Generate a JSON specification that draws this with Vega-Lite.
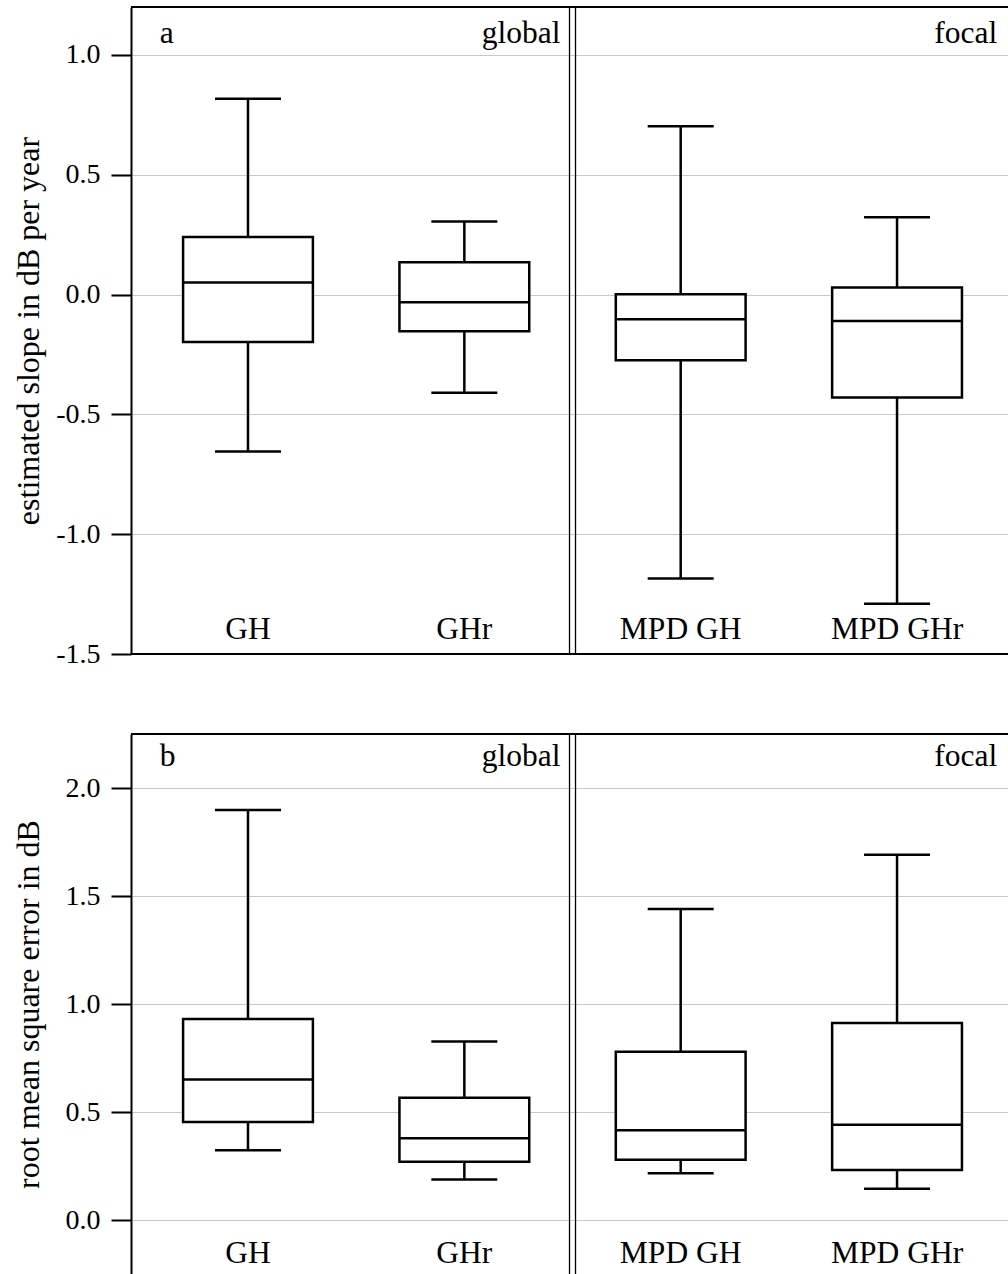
{
  "$schema": "https://vega.github.io/schema/vega-lite/v6.json",
  "padding": {"left": 12, "top": 6, "right": 0, "bottom": 0},
  "background": "white",
  "bounds": "flush",
  "spacing": 80,
  "config": {
    "font": "Liberation Serif",
    "view": {"stroke": null},
    "axisY": {
      "domain": true, "domainColor": "black", "domainWidth": 2,
      "ticks": true, "tickColor": "black", "tickWidth": 2, "tickSize": 20,
      "labelPadding": 11, "labelFontSize": 28, "labelColor": "black", "labelFont": "Liberation Serif",
      "titleFontSize": 32, "titleFontWeight": "normal", "titleColor": "black", "titleFont": "Liberation Serif",
      "grid": true, "gridColor": "#c8c8c8", "gridWidth": 1
    },
    "text": {"fontSize": 31.5, "color": "black", "font": "Liberation Serif"}
  },
  "vconcat": [
    {
      "width": 877,
      "height": 647,
      "data": {"values": [
        {"model": "GH", "lower": -0.655, "q1": -0.198, "median": 0.05, "q3": 0.24, "upper": 0.817},
        {"model": "GHr", "lower": -0.41, "q1": -0.153, "median": -0.032, "q3": 0.135, "upper": 0.305},
        {"model": "MPD GH", "lower": -1.185, "q1": -0.274, "median": -0.103, "q3": 0.001, "upper": 0.702},
        {"model": "MPD GHr", "lower": -1.29, "q1": -0.43, "median": -0.11, "q3": 0.029, "upper": 0.323}
      ]},
      "layer": [
        {
          "mark": {"type": "rule", "color": "black", "strokeWidth": 2.5},
          "encoding": {
            "x": {"field": "model", "type": "nominal", "axis": null,
                  "scale": {"type": "band", "domain": ["GH", "GHr", "MPD GH", "MPD GHr"], "paddingInner": 0, "paddingOuter": 0.0268, "align": 0.76}},
            "y": {"field": "lower", "type": "quantitative",
                  "scale": {"domain": [-1.5, 1.2], "nice": false, "zero": false},
                  "axis": {"values": [-1.5, -1, -0.5, 0, 0.5, 1], "labelExpr": "datum.value < 0 ? '-' + format(-datum.value, '.1f') : format(datum.value, '.1f')", "title": "estimated slope in dB per year", "titlePadding": 10}},
            "y2": {"field": "upper"}
          }
        },
        {
          "mark": {"type": "bar", "width": {"band": 0.6}, "fill": "white", "stroke": "black", "strokeWidth": 2.5},
          "encoding": {
            "x": {"field": "model", "type": "nominal"},
            "y": {"field": "q1", "type": "quantitative"},
            "y2": {"field": "q3"}
          }
        },
        {
          "mark": {"type": "tick", "color": "black", "size": 130, "thickness": 2.5, "opacity": 1},
          "encoding": {
            "x": {"field": "model", "type": "nominal"},
            "y": {"field": "median", "type": "quantitative"}
          }
        },
        {
          "mark": {"type": "tick", "color": "black", "size": 66, "thickness": 2.5, "opacity": 1},
          "encoding": {
            "x": {"field": "model", "type": "nominal"},
            "y": {"field": "upper", "type": "quantitative"}
          }
        },
        {
          "mark": {"type": "tick", "color": "black", "size": 66, "thickness": 2.5, "opacity": 1},
          "encoding": {
            "x": {"field": "model", "type": "nominal"},
            "y": {"field": "lower", "type": "quantitative"}
          }
        },
        {
          "mark": {"type": "text", "baseline": "alphabetic", "align": "center", "dy": -15},
          "encoding": {
            "x": {"field": "model", "type": "nominal"},
            "y": {"datum": -1.5},
            "text": {"field": "model"}
          }
        },
        {
          "data": {"values": [{"edge": "top"}]},
          "mark": {"type": "rule", "color": "black", "strokeWidth": 2},
          "encoding": {"y": {"datum": 1.2}}
        },
        {
          "data": {"values": [{"edge": "bottom"}]},
          "mark": {"type": "rule", "color": "black", "strokeWidth": 2},
          "encoding": {"y": {"datum": -1.5}}
        },
        {
          "data": {"values": [{"edge": "separator"}]},
          "mark": {"type": "rule", "color": "black", "strokeWidth": 1.3, "xOffset": -3},
          "encoding": {"x": {"datum": "GHr", "bandPosition": 1}}
        },
        {
          "data": {"values": [{"edge": "separator"}]},
          "mark": {"type": "rule", "color": "black", "strokeWidth": 1.3, "xOffset": 3},
          "encoding": {"x": {"datum": "GHr", "bandPosition": 1}}
        },
        {
          "data": {"values": [{"label": "a"}]},
          "mark": {"type": "text", "align": "left", "baseline": "alphabetic", "dx": 20, "dy": 36},
          "encoding": {"x": {"datum": "GH", "bandPosition": 0}, "y": {"datum": 1.2}, "text": {"field": "label"}}
        },
        {
          "data": {"values": [{"label": "global"}]},
          "mark": {"type": "text", "align": "right", "baseline": "alphabetic", "dx": -12, "dy": 36},
          "encoding": {"x": {"datum": "GHr", "bandPosition": 1}, "y": {"datum": 1.2}, "text": {"field": "label"}}
        },
        {
          "data": {"values": [{"label": "focal"}]},
          "mark": {"type": "text", "align": "right", "baseline": "alphabetic", "dx": -8, "dy": 36},
          "encoding": {"x": {"datum": "MPD GHr", "bandPosition": 1}, "y": {"datum": 1.2}, "text": {"field": "label"}}
        }
      ]
    },
    {
      "width": 877,
      "height": 540,
      "data": {"values": [
        {"model": "GH", "lower": 0.323, "q1": 0.454, "median": 0.65, "q3": 0.93, "upper": 1.898},
        {"model": "GHr", "lower": 0.187, "q1": 0.27, "median": 0.378, "q3": 0.566, "upper": 0.826},
        {"model": "MPD GH", "lower": 0.216, "q1": 0.279, "median": 0.415, "q3": 0.779, "upper": 1.44},
        {"model": "MPD GHr", "lower": 0.145, "q1": 0.231, "median": 0.441, "q3": 0.912, "upper": 1.691}
      ]},
      "layer": [
        {
          "mark": {"type": "rule", "color": "black", "strokeWidth": 2.5},
          "encoding": {
            "x": {"field": "model", "type": "nominal", "axis": null,
                  "scale": {"type": "band", "domain": ["GH", "GHr", "MPD GH", "MPD GHr"], "paddingInner": 0, "paddingOuter": 0.0268, "align": 0.76}},
            "y": {"field": "lower", "type": "quantitative",
                  "scale": {"domain": [-0.25, 2.25], "nice": false, "zero": false},
                  "axis": {"values": [0, 0.5, 1, 1.5, 2], "labelExpr": "format(datum.value, '.1f')", "title": "root mean square error in dB", "titlePadding": 20}},
            "y2": {"field": "upper"}
          }
        },
        {
          "mark": {"type": "bar", "width": {"band": 0.6}, "fill": "white", "stroke": "black", "strokeWidth": 2.5},
          "encoding": {
            "x": {"field": "model", "type": "nominal"},
            "y": {"field": "q1", "type": "quantitative"},
            "y2": {"field": "q3"}
          }
        },
        {
          "mark": {"type": "tick", "color": "black", "size": 130, "thickness": 2.5, "opacity": 1},
          "encoding": {
            "x": {"field": "model", "type": "nominal"},
            "y": {"field": "median", "type": "quantitative"}
          }
        },
        {
          "mark": {"type": "tick", "color": "black", "size": 66, "thickness": 2.5, "opacity": 1},
          "encoding": {
            "x": {"field": "model", "type": "nominal"},
            "y": {"field": "upper", "type": "quantitative"}
          }
        },
        {
          "mark": {"type": "tick", "color": "black", "size": 66, "thickness": 2.5, "opacity": 1},
          "encoding": {
            "x": {"field": "model", "type": "nominal"},
            "y": {"field": "lower", "type": "quantitative"}
          }
        },
        {
          "mark": {"type": "text", "baseline": "alphabetic", "align": "center", "dy": -11},
          "encoding": {
            "x": {"field": "model", "type": "nominal"},
            "y": {"datum": -0.25},
            "text": {"field": "model"}
          }
        },
        {
          "data": {"values": [{"edge": "top"}]},
          "mark": {"type": "rule", "color": "black", "strokeWidth": 2},
          "encoding": {"y": {"datum": 2.25}}
        },
        {
          "data": {"values": [{"edge": "separator"}]},
          "mark": {"type": "rule", "color": "black", "strokeWidth": 1.3, "xOffset": -3},
          "encoding": {"x": {"datum": "GHr", "bandPosition": 1}}
        },
        {
          "data": {"values": [{"edge": "separator"}]},
          "mark": {"type": "rule", "color": "black", "strokeWidth": 1.3, "xOffset": 3},
          "encoding": {"x": {"datum": "GHr", "bandPosition": 1}}
        },
        {
          "data": {"values": [{"label": "b"}]},
          "mark": {"type": "text", "align": "left", "baseline": "alphabetic", "dx": 20, "dy": 32},
          "encoding": {"x": {"datum": "GH", "bandPosition": 0}, "y": {"datum": 2.25}, "text": {"field": "label"}}
        },
        {
          "data": {"values": [{"label": "global"}]},
          "mark": {"type": "text", "align": "right", "baseline": "alphabetic", "dx": -12, "dy": 32},
          "encoding": {"x": {"datum": "GHr", "bandPosition": 1}, "y": {"datum": 2.25}, "text": {"field": "label"}}
        },
        {
          "data": {"values": [{"label": "focal"}]},
          "mark": {"type": "text", "align": "right", "baseline": "alphabetic", "dx": -8, "dy": 32},
          "encoding": {"x": {"datum": "MPD GHr", "bandPosition": 1}, "y": {"datum": 2.25}, "text": {"field": "label"}}
        }
      ]
    }
  ]
}
